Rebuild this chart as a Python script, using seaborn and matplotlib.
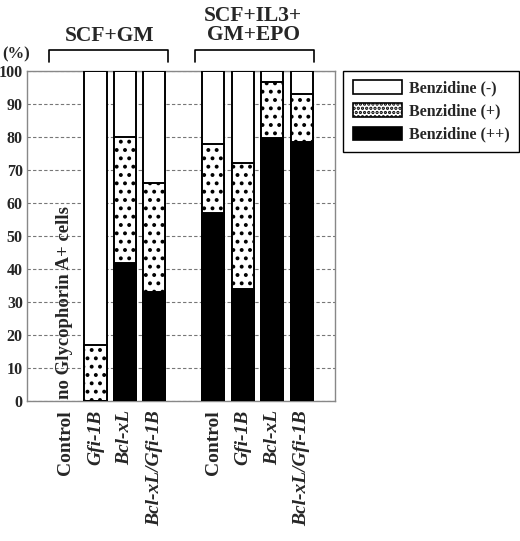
import numpy as np
import pandas as pd
import seaborn as sns
import matplotlib.pyplot as plt
from matplotlib.patches import Patch

# values (%), Control in SCF+GM had no Glycophorin A+ cells
labels = ["Control", "Gfi-1B", "Bcl-xL", "Bcl-xL/Gfi-1B"] * 2
groups = ["SCF+GM", "SCF+IL3+\nGM+EPO"]
pos = [0, 1, 2, 3, 5, 6, 7, 8]
benz_pp = [np.nan, 0, 42, 33, 57, 34, 79.6, 78.5]   # Benzidine (++)
benz_p = [np.nan, 17, 38, 33, 21, 38, 17.1, 14.4]   # Benzidine (+)
benz_n = [np.nan, 83, 20, 34, 22, 28, 3.3, 7.1]     # Benzidine (-)

df = pd.DataFrame({"pos": pos, "label": labels,
                   "pp": benz_pp, "p": benz_p, "n": benz_n})
df["mid"] = df["pp"] + df["p"]
df["top"] = df["mid"] + df["n"]
d = df.dropna()

sns.set_style("white")
plt.rcParams["font.family"] = ["Liberation Serif", "DejaVu Serif"]
plt.rcParams["font.weight"] = "bold"
plt.rcParams["hatch.linewidth"] = 1.6

fig = plt.figure(figsize=(5.2, 5.41), dpi=100)
ax = fig.add_axes([0.052, 0.258, 0.592, 0.611])

# stacked bars: draw totals first, then overlay lower parts
sns.barplot(data=d, x="pos", y="top", native_scale=True, width=0.75, color="white",
            edgecolor="black", linewidth=1.4, errorbar=None, ax=ax, zorder=3)
sns.barplot(data=d, x="pos", y="mid", native_scale=True, width=0.75, color="white",
            edgecolor="black", linewidth=1.4, errorbar=None, ax=ax, hatch="..", zorder=3)
sns.barplot(data=d, x="pos", y="pp", native_scale=True, width=0.75, color="black",
            edgecolor="black", linewidth=1.4, errorbar=None, ax=ax, zorder=3)

ax.set_xlim(-1.32, 9.12)
ax.set_ylim(0, 100)
ax.set_yticks(range(0, 101, 10))
ax.set_xticks(pos)
ax.set_xticklabels(labels, rotation=90, fontsize=14, fontweight="bold")
for t in ax.get_xticklabels():
    if t.get_text() != "Control":
        t.set_fontstyle("italic")
ax.tick_params(axis="y", labelsize=11.5, length=0, pad=3)
ax.tick_params(axis="x", length=0, pad=6)
for t in ax.get_yticklabels():
    t.set_fontweight("bold")
ax.set_xlabel("")
ax.set_ylabel("")
ax.yaxis.grid(True, linestyle=(0, (3, 2)), color="#777777", linewidth=0.8)
ax.set_axisbelow(True)
for s in ax.spines.values():
    s.set_color("#888888")
    s.set_linewidth(1.0)

ax.text(-0.05, 0.8, "no Glycophorin A+ cells", rotation=90, ha="center", va="bottom",
        fontsize=13.5, fontweight="bold")

# group brackets and titles above the axes
for (x0, x1, xc, ty), name in zip([(-0.58, 3.46, 1.49, 109.0), (4.37, 8.41, 6.35, 109.3)], groups):
    ax.plot([x0, x0, x1, x1], [102.6, 106.3, 106.3, 102.6], color="black",
            linewidth=1.2, clip_on=False)
    ax.text(xc, ty, name, ha="center", va="baseline", fontsize=15.5,
            fontweight="bold", linespacing=0.92)
ax.text(-1.68, 105, "(%)", ha="center", va="center", fontsize=12, fontweight="bold")

handles = [Patch(facecolor="white", edgecolor="black", linewidth=1.2),
           Patch(facecolor="white", edgecolor="black", linewidth=1.2, hatch="...."),
           Patch(facecolor="black", edgecolor="black", linewidth=1.2)]
leg = fig.legend(handles, ["Benzidine (-)", "Benzidine (+)", "Benzidine (++)"],
                 loc="upper left", bbox_to_anchor=(0.66, 0.869), borderaxespad=0,
                 fancybox=False, edgecolor="black", framealpha=1,
                 prop={"size": 11.5, "weight": "bold"},
                 handlelength=3.06, handleheight=0.94, handletextpad=0.45,
                 labelspacing=0.42, borderpad=0.6)
leg.get_frame().set_linewidth(1.0)

fig.savefig("out.png", dpi=100)
